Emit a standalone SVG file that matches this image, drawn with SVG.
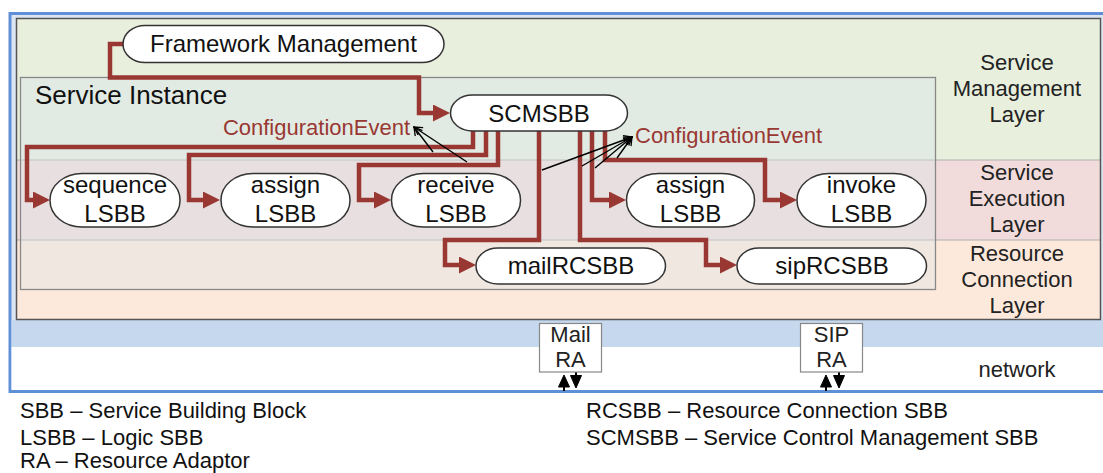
<svg xmlns="http://www.w3.org/2000/svg" width="1103" height="473" viewBox="0 0 1103 473">
  <defs>
    <marker id="ah" markerUnits="userSpaceOnUse" markerWidth="18" markerHeight="18" refX="9" refY="8.5" orient="auto">
      <path d="M0,0 L17,8.5 L0,17 z" fill="#993833"/>
    </marker>
    <marker id="open" markerUnits="userSpaceOnUse" markerWidth="12" markerHeight="12" refX="9" refY="5" orient="auto">
      <path d="M1,0.5 L9,5 L1,9.5" fill="none" stroke="#000" stroke-width="1.3"/>
    </marker>
  </defs>
  <style>
    text { font-family: "Liberation Sans", Arial, sans-serif; }
    .node rect { fill: #fff; stroke: #333; stroke-width: 1.5; }
    .nt { font-size: 24px; text-anchor: middle; fill: #111; }
    .lt { font-size: 22px; text-anchor: middle; fill: #222; }
    .ce { font-size: 22px; fill: #993833; }
    .conn { fill: none; stroke: #993833; stroke-width: 4.5; marker-end: url(#ah); }
    .thin { fill: none; stroke: #000; stroke-width: 1.4; marker-end: url(#open); }
    .leg { font-size: 22px; fill: #111; }
    .ra rect { fill: #fff; stroke: #888; stroke-width: 1.2; }
    .bi { fill: #000; stroke: #000; stroke-width: 1; }
  </style>

  <!-- background frame -->
  <g id="frame">
    <rect x="10" y="13.5" width="1100" height="378" fill="#dce6f2" stroke="#5f8fd6" stroke-width="3"/>
    <rect x="11.5" y="320" width="1095" height="27" fill="#c5d8ee"/>
    <rect x="11.5" y="347" width="1095" height="43" fill="#ffffff"/>
  </g>

  <!-- layers -->
  <g id="layers">
    <rect x="16.5" y="18.5" width="1084" height="141.5" fill="#e8efdd"/>
    <rect x="16.5" y="160" width="1084" height="80" fill="#f1dcdb"/>
    <rect x="16.5" y="240" width="1084" height="79.5" fill="#fde9db"/>
    <line x1="16.5" y1="160" x2="1100.5" y2="160" stroke="#b0b0b0" stroke-width="1"/>
    <line x1="16.5" y1="240" x2="1100.5" y2="240" stroke="#b0b0b0" stroke-width="1"/>
    <rect x="16.5" y="18.5" width="1084" height="301" fill="none" stroke="#555" stroke-width="1.5"/>
    <text class="lt" x="1017" y="70">Service</text>
    <text class="lt" x="1017" y="96">Management</text>
    <text class="lt" x="1017" y="122">Layer</text>
    <text class="lt" x="1017" y="180">Service</text>
    <text class="lt" x="1017" y="206">Execution</text>
    <text class="lt" x="1017" y="232">Layer</text>
    <text class="lt" x="1017" y="261">Resource</text>
    <text class="lt" x="1017" y="287">Connection</text>
    <text class="lt" x="1017" y="313">Layer</text>
    <text class="lt" x="1017" y="377">network</text>
  </g>

  <!-- service instance container -->
  <g id="service-instance">
    <rect x="20.5" y="77.5" width="915" height="212" fill="#d8e4ee" fill-opacity="0.35" stroke="#888" stroke-width="1.3"/>
    <text x="35" y="104" font-size="26" fill="#111">Service Instance</text>
  </g>

  <!-- connectors -->
  <g id="connectors">
    <path class="conn" d="M125,44 H110 V77.5 H419 V113 H442"/>
    <path class="conn" d="M473,125 V147 H27 V200 H42"/>
    <path class="conn" d="M486,125 V155 H189 V200 H212"/>
    <path class="conn" d="M498,125 V165 H359 V200 H383"/>
    <path class="conn" d="M539,125 V240 H445 V265 H468"/>
    <path class="conn" d="M580,125 V240 H706 V265 H729"/>
    <path class="conn" d="M592,125 V200 H618"/>
    <path class="conn" d="M605,125 V160 H765 V200 H789"/>
    <path class="thin" d="M433,152 L414,127"/>
    <path class="thin" d="M467,162 L414,127"/>
    <path class="thin" d="M542,170 L632,137"/>
    <path class="thin" d="M582,166 L632,137"/>
    <path class="thin" d="M595,168 L632,137"/>
    <path class="thin" d="M617,158 L632,137"/>
    <text class="ce" x="410" y="135" text-anchor="end">ConfigurationEvent</text>
    <text class="ce" x="635" y="143">ConfigurationEvent</text>
    <!-- RA bidirectional arrows -->
    <polygon class="bi" points="564,375 558.5,387 569.5,387"/>
    <line x1="564" y1="387" x2="564" y2="391" stroke="#000" stroke-width="2"/>
    <polygon class="bi" points="570.5,375.5 581.5,375.5 576,388"/>
    <line x1="576" y1="372" x2="576" y2="376" stroke="#000" stroke-width="2"/>
    <polygon class="bi" points="826,375 820.5,387 831.5,387"/>
    <line x1="826" y1="387" x2="826" y2="391" stroke="#000" stroke-width="2"/>
    <polygon class="bi" points="833.5,375.5 844.5,375.5 839,388"/>
    <line x1="839" y1="372" x2="839" y2="376" stroke="#000" stroke-width="2"/>
  </g>

  <!-- nodes -->
  <g id="framework-management" class="node">
    <rect x="123" y="25.5" width="321" height="37" rx="22" ry="18.5"/>
    <text class="nt" x="283.5" y="52">Framework Management</text>
  </g>
  <g id="scmsbb" class="node">
    <rect x="450.5" y="95" width="177" height="36" rx="22" ry="18"/>
    <text class="nt" x="539" y="122">SCMSBB</text>
  </g>
  <g id="sequence-lsbb" class="node">
    <rect x="50" y="173.5" width="130" height="53.5" rx="32" ry="26.5"/>
    <text class="nt" x="115" y="193">sequence</text>
    <text class="nt" x="115" y="222">LSBB</text>
  </g>
  <g id="assign-lsbb-1" class="node">
    <rect x="221" y="173.5" width="129" height="53.5" rx="32" ry="26.5"/>
    <text class="nt" x="285.5" y="193">assign</text>
    <text class="nt" x="285.5" y="222">LSBB</text>
  </g>
  <g id="receive-lsbb" class="node">
    <rect x="391.5" y="173.5" width="129" height="53.5" rx="32" ry="26.5"/>
    <text class="nt" x="456" y="193">receive</text>
    <text class="nt" x="456" y="222">LSBB</text>
  </g>
  <g id="assign-lsbb-2" class="node">
    <rect x="626.5" y="173.5" width="128" height="53.5" rx="32" ry="26.5"/>
    <text class="nt" x="690.5" y="193">assign</text>
    <text class="nt" x="690.5" y="222">LSBB</text>
  </g>
  <g id="invoke-lsbb" class="node">
    <rect x="797" y="173.5" width="129" height="53.5" rx="32" ry="26.5"/>
    <text class="nt" x="861.5" y="193">invoke</text>
    <text class="nt" x="861.5" y="222">LSBB</text>
  </g>
  <g id="mailrcsbb" class="node">
    <rect x="476" y="248" width="189.5" height="36" rx="22" ry="18"/>
    <text class="nt" x="571" y="274">mailRCSBB</text>
  </g>
  <g id="siprcsbb" class="node">
    <rect x="737" y="248" width="189.5" height="36" rx="22" ry="18"/>
    <text class="nt" x="832" y="274">sipRCSBB</text>
  </g>
  <g id="mail-ra" class="ra">
    <rect x="539.5" y="323.5" width="62" height="48.5"/>
    <text class="lt" x="570.5" y="342" fill="#111">Mail</text>
    <text class="lt" x="570.5" y="367" fill="#111">RA</text>
  </g>
  <g id="sip-ra" class="ra">
    <rect x="800.5" y="323.5" width="62" height="48.5"/>
    <text class="lt" x="831.5" y="342" fill="#111">SIP</text>
    <text class="lt" x="831.5" y="367" fill="#111">RA</text>
  </g>

  <!-- legend -->
  <g id="legend">
    <text class="leg" x="20" y="418">SBB – Service Building Block</text>
    <text class="leg" x="20" y="445">LSBB – Logic SBB</text>
    <text class="leg" x="20" y="468">RA – Resource Adaptor</text>
    <text class="leg" x="586" y="418">RCSBB – Resource Connection SBB</text>
    <text class="leg" x="586" y="445">SCMSBB – Service Control Management SBB</text>
  </g>
</svg>
